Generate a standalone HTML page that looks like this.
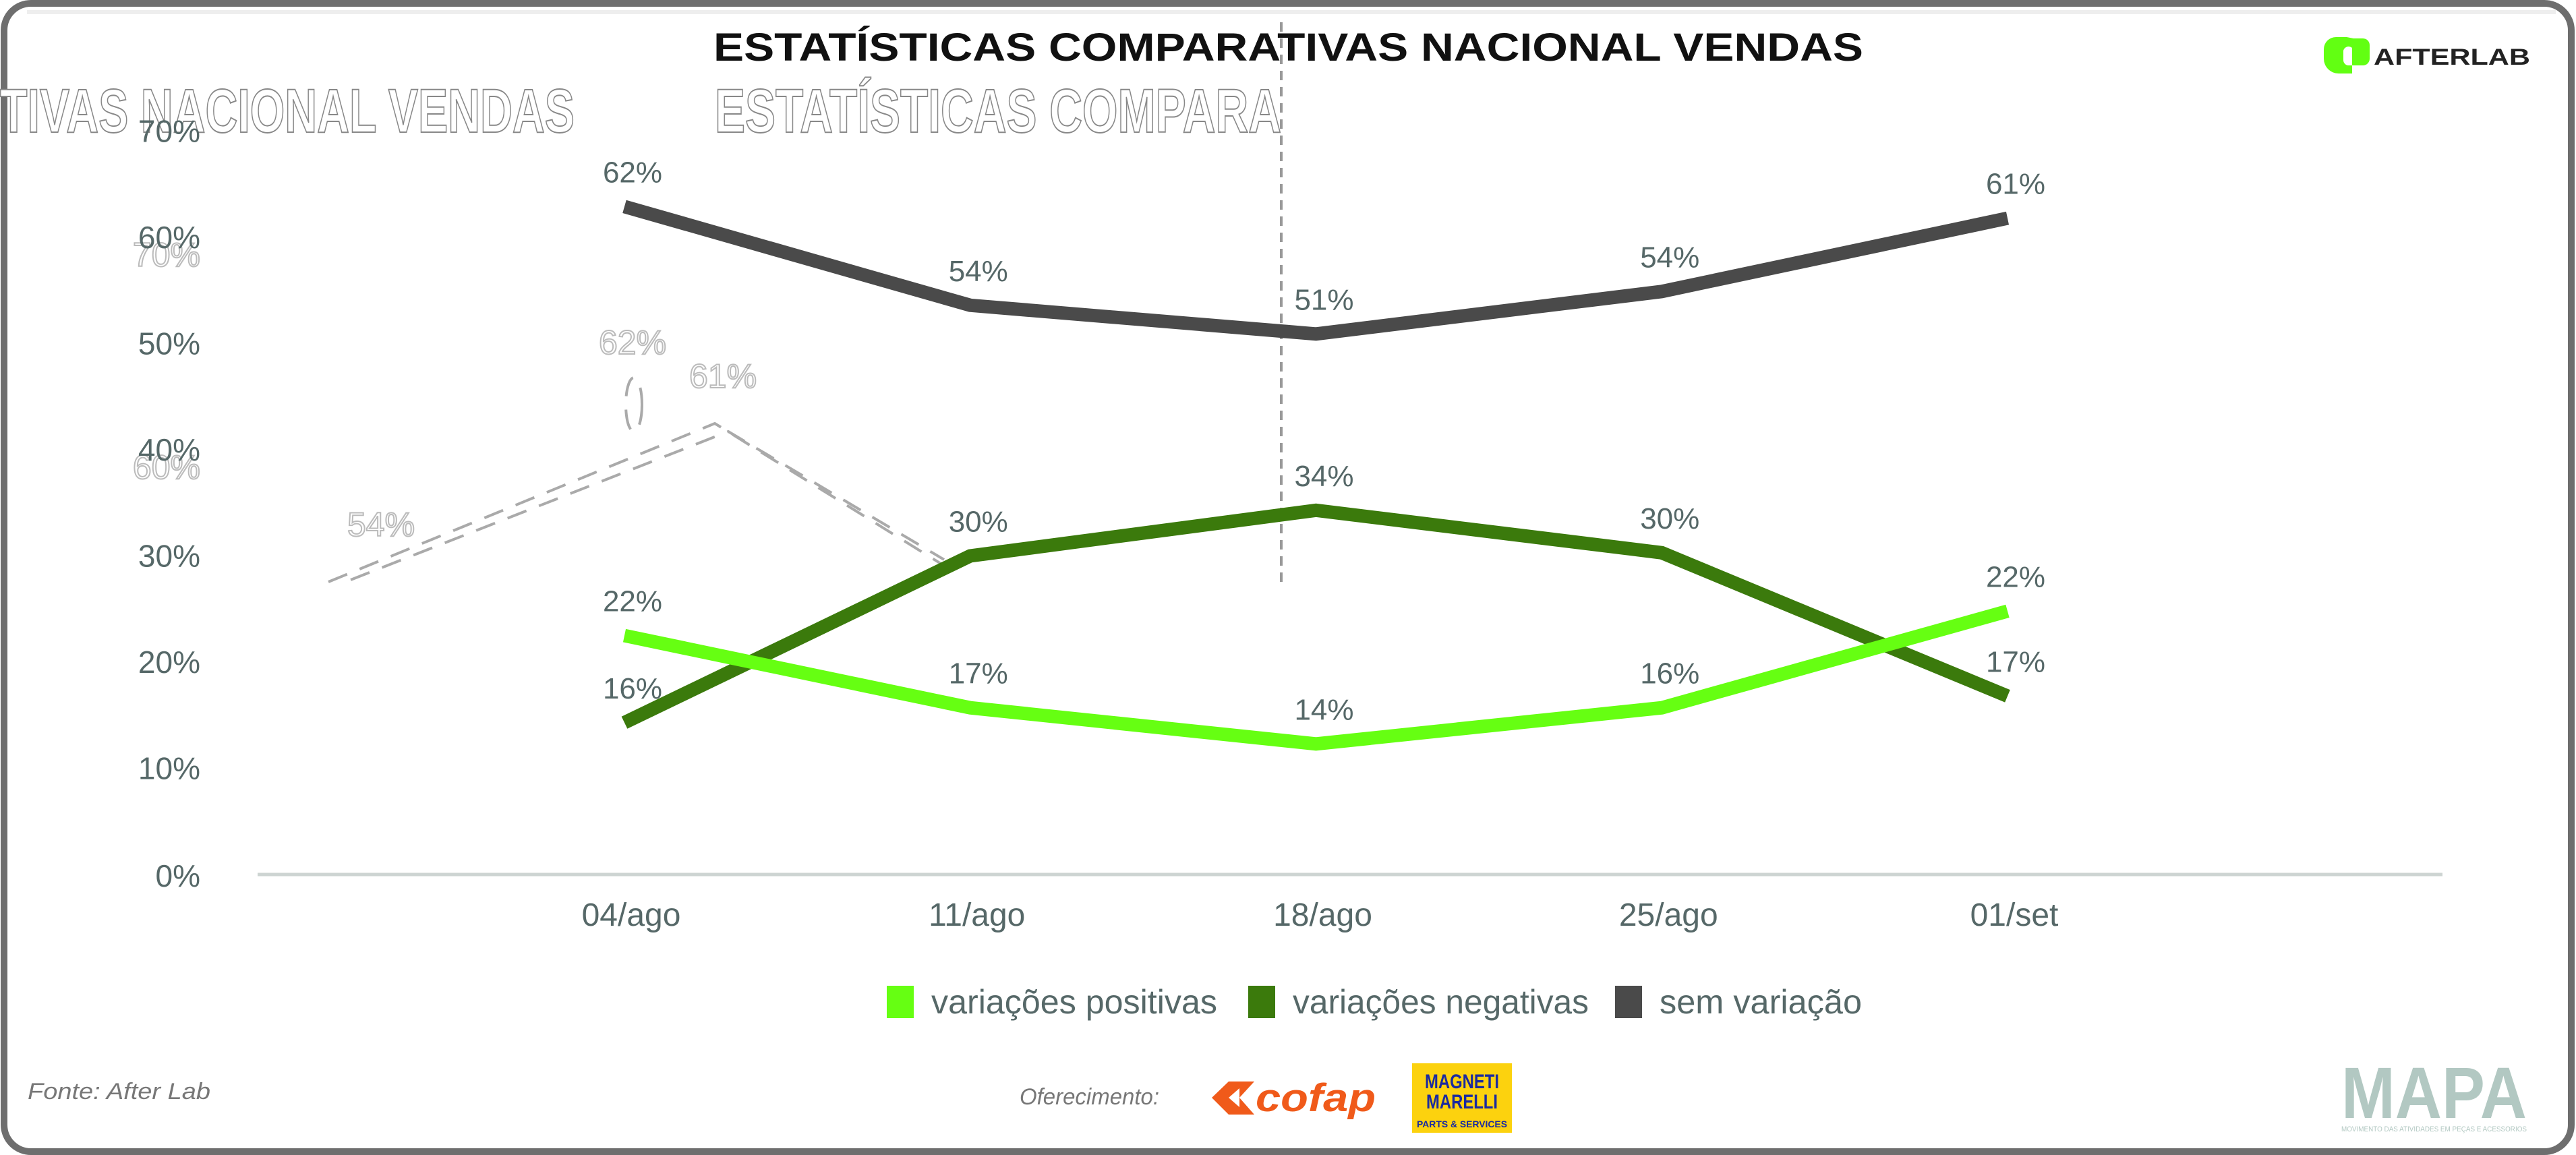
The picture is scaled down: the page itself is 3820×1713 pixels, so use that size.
<!DOCTYPE html>
<html><head><meta charset="utf-8"><style>
html,body{margin:0;padding:0;background:#fff;}
svg{display:block;font-family:"Liberation Sans",sans-serif;}
</style></head><body>
<svg id="chart" width="3820" height="1713" viewBox="0 0 3820 1713" xmlns="http://www.w3.org/2000/svg">
<rect x="0" y="0" width="3820" height="1713" fill="#fff"/>
<rect x="6" y="5" width="3807" height="1703" rx="40" fill="none" stroke="#6e6e6e" stroke-width="10"/>
<line x1="40" y1="18" x2="3790" y2="18" stroke="#eee" stroke-width="6"/>

<!-- ghost artifacts -->
<g fill="#fff" stroke="#888" stroke-width="2" font-weight="bold" font-size="92">
<text x="0" y="196" textLength="852" lengthAdjust="spacingAndGlyphs">TIVAS NACIONAL VENDAS</text>
<text x="1060" y="196" textLength="840" lengthAdjust="spacingAndGlyphs">ESTATÍSTICAS COMPARA</text>
</g>
<g fill="#fff" stroke="#bbb" stroke-width="2" font-size="50">
<text x="938" y="525" text-anchor="middle">62%</text>
<text x="1072" y="575" text-anchor="middle">61%</text>
<text x="565" y="795" text-anchor="middle">54%</text>
<text x="297" y="395" text-anchor="end">70%</text>
<text x="297" y="710" text-anchor="end">60%</text>
</g>
<g stroke="#aaa" stroke-width="4" stroke-dasharray="30 20" fill="none">
<polyline points="487,863 1060,628 1413,847"/>
<polyline points="520,860 1080,640 1400,830"/>
<ellipse cx="940" cy="600" rx="12" ry="40"/>
</g>
<line x1="1900" y1="33" x2="1900" y2="863" stroke="#999" stroke-width="4" stroke-dasharray="14 10"/>

<!-- title and logos -->
<text x="1058" y="90" font-size="58" font-weight="bold" fill="#111" textLength="1705" lengthAdjust="spacingAndGlyphs">ESTATÍSTICAS COMPARATIVAS NACIONAL VENDAS</text>
<g>
<path d="M3490,57 h14 a10,10 0 0 1 10,10 v20 a10,10 0 0 1 -10,10 h-16 v12 h-20 a22,22 0 0 1 -22,-22 v-14 a18,18 0 0 1 18,-18 h16 z" fill="#62ff12"/>
<path d="M3475,75 a8,8 0 0 1 13,-4 v26 h-6 a8,8 0 0 1 -7,-8 z" fill="#fff"/>
<text x="3520" y="96" font-size="34" font-weight="bold" fill="#222" textLength="232" lengthAdjust="spacingAndGlyphs">AFTERLAB</text>
</g>

<g id="axes"></g>
<g id="series"></g>
<g id="legend"></g>

<!-- footer -->
<text x="41" y="1630" font-size="34" font-style="italic" fill="#777" textLength="271" lengthAdjust="spacingAndGlyphs">Fonte: After Lab</text>
<text x="1512" y="1638" font-size="34" font-style="italic" fill="#777" textLength="207" lengthAdjust="spacingAndGlyphs">Oferecimento:</text>
<g>
<polygon points="1797,1628 1822,1604 1860,1604 1838,1628 1860,1653 1822,1653" fill="#f05a1a"/>
<polygon points="1822,1628 1838,1614 1838,1642" fill="#fff"/>
<text x="1862" y="1648" font-size="58" font-weight="bold" font-style="italic" fill="#f05a1a" textLength="178" lengthAdjust="spacingAndGlyphs">cofap</text>
</g>
<g>
<rect x="2094" y="1577" width="148" height="103" fill="#fcd20e"/>
<text x="2168" y="1614" font-size="30" font-weight="bold" fill="#1a2aa0" text-anchor="middle" textLength="110" lengthAdjust="spacingAndGlyphs">MAGNETI</text>
<text x="2168" y="1644" font-size="30" font-weight="bold" fill="#1a2aa0" text-anchor="middle" textLength="106" lengthAdjust="spacingAndGlyphs">MARELLI</text>
<text x="2168" y="1672" font-size="14" font-weight="bold" fill="#1a2aa0" text-anchor="middle" textLength="134" lengthAdjust="spacingAndGlyphs">PARTS &amp; SERVICES</text>
</g>
<g>
<text x="3472" y="1658" font-size="108" font-weight="bold" fill="#b2c8c2" textLength="275" lengthAdjust="spacingAndGlyphs">MAPA</text>
<text x="3472" y="1678" font-size="11" fill="#b2c8c2" textLength="275" lengthAdjust="spacingAndGlyphs">MOVIMENTO DAS ATIVIDADES EM PEÇAS E ACESSORIOS</text>
</g>

<script>
const categories = ["04/ago","11/ago","18/ago","25/ago","01/set"];
const positivas = [22.5, 15.7, 12.3, 15.7, 24.8];
const negativas = [14.3, 30.0, 34.3, 30.3, 16.8];
const semVariacao = [62.9, 53.6, 50.9, 54.9, 61.8];
const positivasLabels = ["22%","17%","14%","16%","22%"];
const negativasLabels = ["16%","30%","34%","30%","17%"];
const semVariacaoLabels = ["62%","54%","51%","54%","61%"];
const yTicks = [0,10,20,30,40,50,60,70];
const yTickLabels = ["0%","10%","20%","30%","40%","50%","60%","70%"];
const seriesNames = ["variações positivas","variações negativas","sem variação"];

const NS = "http://www.w3.org/2000/svg";
function xPos(i){ return 926 + i*512.75; }
function yPos(v){ return 1297 - v*15.75; }
function mk(tag, attrs, parent){ const e=document.createElementNS(NS,tag); for(const k in attrs) e.setAttribute(k,attrs[k]); parent.appendChild(e); return e; }

const axes = document.getElementById("axes");
const base = mk("line",{x1:382,y1:yPos(0),x2:3622,y2:yPos(0),stroke:"#cdd4d2","stroke-width":5},axes);


yTicks.forEach((t,i)=>{
  const tx = mk("text",{x:297,y:yPos(t)+(t===0?18:16),"font-size":46,fill:"#566868","text-anchor":"end"},axes);
  tx.textContent = yTickLabels[i];
  
  
});
categories.forEach((c,i)=>{
  const tx = mk("text",{x:xPos(i)+10,y:1373,"font-size":48,fill:"#566868","text-anchor":"middle"},axes);
  tx.textContent = c;
  
  
});

const seriesG = document.getElementById("series");
function drawSeries(vals, labels, color, name){
  const g = mk("g",{},seriesG);
  
  
  const pts = vals.map((v,i)=>xPos(i)+","+yPos(v)).join(" ");
  const pl = mk("polyline",{points:pts,fill:"none",stroke:color,"stroke-width":20,"stroke-linejoin":"miter"},g);
  
  
  vals.forEach((v,i)=>{
    const tx = mk("text",{x:xPos(i)+12,y:yPos(v)-36,"font-size":44,fill:"#566868","text-anchor":"middle"},g);
    tx.textContent = labels[i];
    
    
  });
}
drawSeries(semVariacao, semVariacaoLabels, "#4a4a4a", "series-sem-variacao");
drawSeries(negativas, negativasLabels, "#3b7a0c", "series-variacoes-negativas");
drawSeries(positivas, positivasLabels, "#66ff12", "series-variacoes-positivas");

const legend = document.getElementById("legend");
const legColors = ["#66ff12","#3b7a0c","#4a4a4a"];
const legX = [1315,1851,2395];
const legW = [424,439,300];
seriesNames.forEach((n,i)=>{
  const g = mk("g",{},legend);
  
  
  mk("rect",{x:legX[i],y:1462,width:40,height:48,fill:legColors[i]},g);
  const tx = mk("text",{x:legX[i]+66,y:1503,"font-size":50,fill:"#566868",textLength:legW[i],lengthAdjust:"spacingAndGlyphs"},g);
  tx.textContent = n;
});
</script>
</svg>
</body></html>
